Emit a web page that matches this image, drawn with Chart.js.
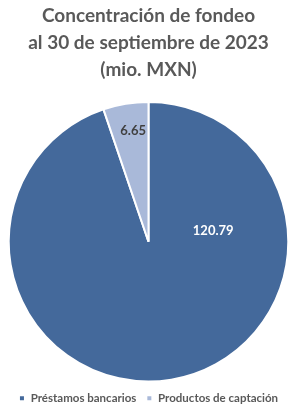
<!DOCTYPE html>
<html>
<head>
<meta charset="utf-8">
<script src="https://cdn.jsdelivr.net/npm/chart.js@4"></script>
<style>
  html, body { margin: 0; padding: 0; background: #fff; }
  #wrap { width: 307px; height: 416px; }
</style>
</head>
<body>
<div id="wrap"><canvas id="pie-chart" width="307" height="416"></canvas></div>
<script>
const labels = ['Préstamos bancarios', 'Productos de captación'];
const values = [120.79, 6.65];
const colors = ['#44699b', '#a9b9d9'];
const titleLines = ['Concentración de fondeo', 'al 30 de septiembre de 2023', '(mio. MXN)'];

// label placement per slice: angle offset from slice middle (deg) and radius fraction
const labelSpots = [
    { angle: -90.6, frac: 0.47, color: '#ffffff' },
    { angle: 1.5, frac: 0.8, color: '#404040' }
];

const valueLabels = {
    id: 'valueLabels',
    afterDatasetsDraw(chart) {
        const ctx = chart.ctx;
        const arcs = chart.getDatasetMeta(0).data;
        ctx.save();
        ctx.font = 'bold 13px Lato';
        ctx.textAlign = 'center';
        ctx.textBaseline = 'middle';
        arcs.forEach((arc, i) => {
            const spot = labelSpots[i];
            const mid = (arc.startAngle + arc.endAngle) / 2 + spot.angle * Math.PI / 180;
            const r = arc.outerRadius * spot.frac;
            ctx.fillStyle = spot.color;
            ctx.fillText(values[i].toFixed(2), arc.x + Math.cos(mid) * r, arc.y + Math.sin(mid) * r);
        });
        ctx.restore();
    }
};

new Chart(document.getElementById('pie-chart'), {
    type: 'pie',
    data: {
        labels: labels,
        datasets: [{
            data: values,
            backgroundColor: colors,
            borderColor: '#ffffff',
            borderWidth: 2
        }]
    },
    options: {
        responsive: false,
        animation: false,
        layout: { padding: { left: 0, right: 10, top: 0, bottom: 2 } },
        plugins: {
            title: {
                display: true,
                text: titleLines,
                color: '#595959',
                font: { family: 'Lato', size: 19, weight: 'bold', lineHeight: 1.42 },
                padding: { top: 2, bottom: 18 }
            },
            legend: {
                position: 'bottom',
                labels: {
                    usePointStyle: true,
                    pointStyle: 'rect',
                    boxWidth: 6,
                    boxHeight: 6,
                    padding: 10,
                    color: '#595959',
                    font: { family: 'Lato', size: 11.5, weight: 'bold' }
                }
            },
            tooltip: { enabled: false }
        }
    },
    plugins: [valueLabels]
});
</script>
</body>
</html>
